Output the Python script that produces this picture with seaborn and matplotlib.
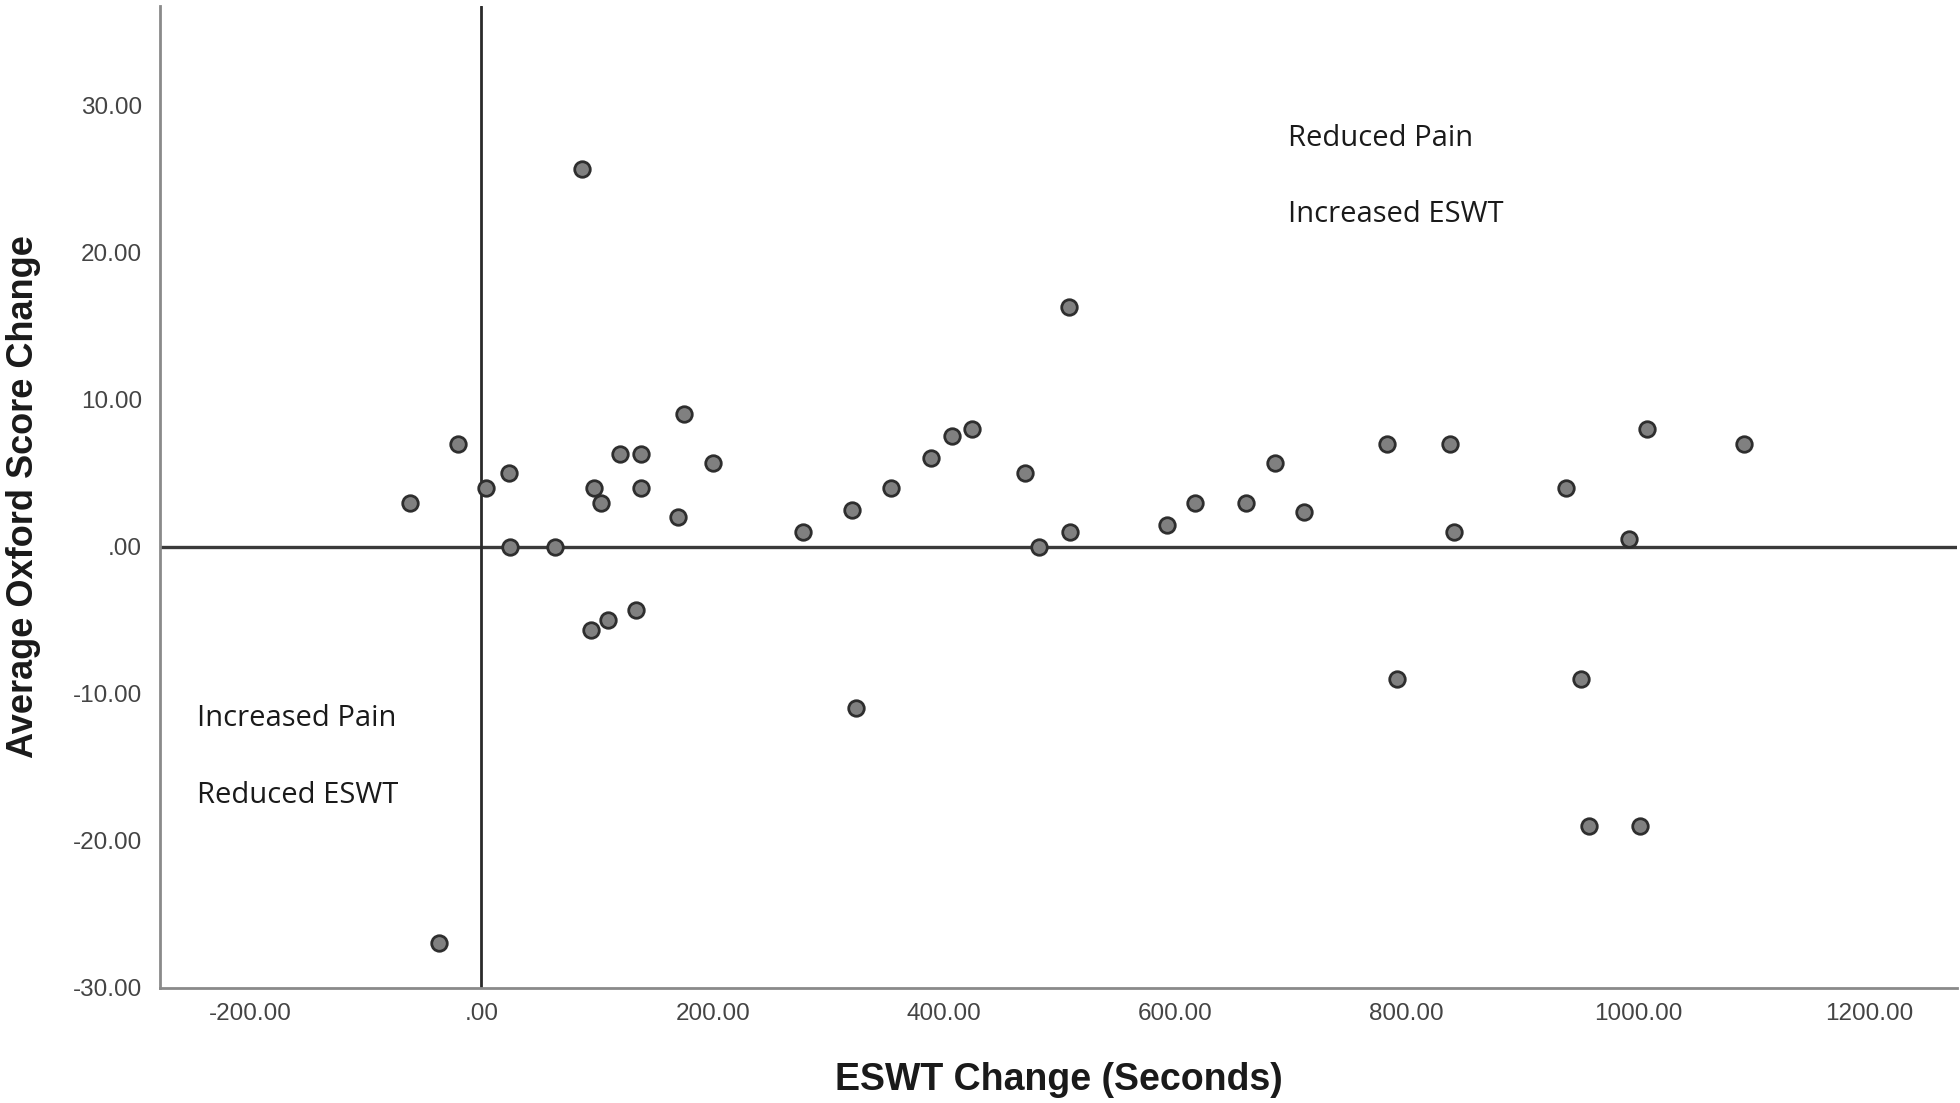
import pandas as pd
import matplotlib.pyplot as plt
import seaborn as sns
from matplotlib.ticker import FuncFormatter, MultipleLocator

# ESWT change (seconds) and average Oxford score change
eswt_change = [-62, -20, 4, 24, 25, 64, 87, 97, 103, 95, 109, 134, 120, 138, 138,
               170, 175, 200, 278, 320, 324, 354, 389, 407, 424, 470, 482, 508,
               509, 593, 617, 661, 686, 711, 783, 792, 837, 841, 938, 951, 958,
               992, 1002, 1008, 1092, -37]
oxford_change = [3.0, 7.0, 4.0, 5.0, 0.0, 0.0, 25.67, 4.0, 3.0, -5.67, -5.0, -4.33,
                 6.33, 6.33, 4.0, 2.0, 9.0, 5.67, 1.0, 2.5, -11.0, 4.0, 6.0, 7.5,
                 8.0, 5.0, 0.0, 16.33, 1.0, 1.5, 3.0, 3.0, 5.67, 2.33, 7.0, -9.0,
                 7.0, 1.0, 4.0, -9.0, -19.0, 0.5, -19.0, 8.0, 7.0, -27.0]

quadrant_text = ["Reduced Pain", "Increased ESWT", "Increased Pain", "Reduced ESWT"]
text_x = [697, 697, -246, -246]
text_y = [27.8, 22.6, -11.7, -16.9]

df = pd.DataFrame({"eswt": eswt_change, "oxford": oxford_change})

sns.set_style("white")
plt.rcParams['font.family'] = ['Liberation Sans', 'DejaVu Sans']

fig = plt.figure(figsize=(19.6, 11.03), dpi=100)
ax = fig.add_axes([0.0816, 0.1047, 0.917, 0.89])

# reference lines at zero
ax.axhline(0, color='#3a3a3a', lw=2.4, zorder=1)
ax.axvline(0, color='#2a2a2a', lw=2.0, zorder=1)

sns.scatterplot(data=df, x="eswt", y="oxford", ax=ax, s=125, color='#808080',
                edgecolor='#2e2e2e', linewidth=2.0, zorder=3)

ax.set_xlim(-278, 1276)
ax.set_ylim(-30, 36.8)
ax.xaxis.set_major_locator(MultipleLocator(200))
ax.yaxis.set_major_locator(MultipleLocator(10))


def spss_fmt(v, pos):
    s = f"{v:.2f}"
    if s in ("0.00", "-0.00"):
        s = ".00"
    return s


ax.xaxis.set_major_formatter(FuncFormatter(spss_fmt))
ax.yaxis.set_major_formatter(FuncFormatter(spss_fmt))
ax.tick_params(axis='both', length=0, labelsize=17.5, labelcolor='#444444')
ax.tick_params(axis='x', pad=11)
ax.tick_params(axis='y', pad=13)

for side in ['top', 'right']:
    ax.spines[side].set_visible(False)
for side in ['left', 'bottom']:
    ax.spines[side].set_color('#8a8a8a')
    ax.spines[side].set_linewidth(2.0)

ax.set_xlabel("ESWT Change (Seconds)", fontsize=27, fontweight='bold',
              color='#1a1a1a', labelpad=27)
ax.set_ylabel("Average Oxford Score Change", fontsize=26, fontweight='bold',
              color='#1a1a1a', labelpad=23)

for t, x, y in zip(quadrant_text, text_x, text_y):
    ax.text(x, y, t, fontsize=21, family=['Open Sans', 'DejaVu Sans'],
            color='#1a1a1a', ha='left', va='center')

fig.savefig("out.png", dpi=100)
